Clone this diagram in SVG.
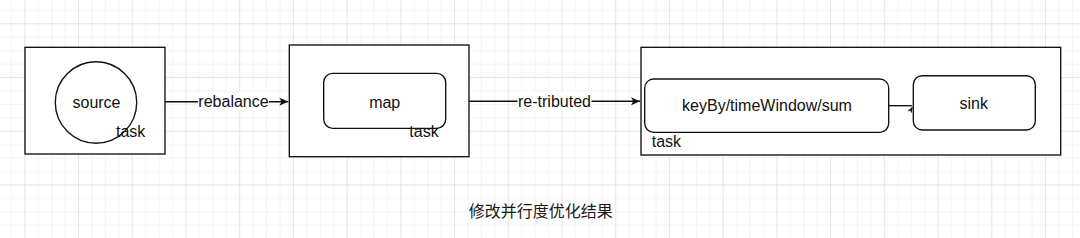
<svg xmlns="http://www.w3.org/2000/svg" width="1080" height="238" viewBox="0 0 1080 238">
  <style>
    .box { fill: #ffffff; stroke: #111111; stroke-width: 1.35; }
    .lbl { font-family: "Liberation Sans", Arial, sans-serif; font-size: 16px; fill: #111111; }
    .mid { text-anchor: middle; }
    .edge { fill: none; stroke: #111111; stroke-width: 1.35; }
    .cap { font-family: "Liberation Sans", "Noto Sans CJK SC", sans-serif; font-size: 16px; fill: #1a1a1a; text-anchor: middle; }
  </style>
  <defs>
    <pattern id="grid" patternUnits="userSpaceOnUse" x="24.3" y="23.3" width="53.72" height="53.72">
      <rect x="0" y="0" width="53.72" height="53.72" fill="#ffffff"/>
      <rect x="13.43" y="0" width="1" height="53.72" fill="#f3f3f3"/>
      <rect x="26.86" y="0" width="1" height="53.72" fill="#f3f3f3"/>
      <rect x="40.29" y="0" width="1" height="53.72" fill="#f3f3f3"/>
      <rect x="0" y="13.43" width="53.72" height="1" fill="#f3f3f3"/>
      <rect x="0" y="26.86" width="53.72" height="1" fill="#f3f3f3"/>
      <rect x="0" y="40.29" width="53.72" height="1" fill="#f3f3f3"/>
      <rect x="0" y="0" width="1" height="53.72" fill="#e6e6e6"/>
      <rect x="0" y="0" width="53.72" height="1" fill="#e6e6e6"/>
    </pattern>
    <marker id="arrow" markerUnits="userSpaceOnUse" viewBox="0 0 10 10" markerWidth="9" markerHeight="9" refX="10" refY="5" orient="auto">
      <path d="M0,0.5 L10,5 L0,9.5 L2.5,5 Z" fill="#111111"/>
    </marker>
  </defs>

  <rect x="0" y="0" width="1080" height="238" fill="url(#grid)"/>

  <g id="task-source">
    <rect class="box" x="25" y="47.3" width="140" height="106.7"/>
    <circle class="box" cx="96" cy="102.5" r="40.7"/>
    <text class="lbl mid" x="96.5" y="107.7">source</text>
    <text class="lbl" x="116" y="137">task</text>
  </g>

  <g id="task-map">
    <rect class="box" x="289.3" y="45" width="179.7" height="111.7"/>
    <rect class="box" x="323.7" y="73.3" width="122" height="55" rx="9" ry="9"/>
    <text class="lbl mid" x="384.7" y="107.5">map</text>
    <text class="lbl" x="409.3" y="137">task</text>
  </g>

  <g id="task-keyby-sink">
    <rect class="box" x="641" y="47.3" width="419.7" height="107.7"/>
    <text class="lbl" x="651.7" y="147.3">task</text>
  </g>

  <g id="keyby">
    <rect class="box" x="644.7" y="79" width="244" height="53.3" rx="9" ry="9"/>
    <text class="lbl mid" x="767" y="111.3">keyBy/timeWindow/sum</text>
  </g>

  <g id="sink">
    <rect class="box" x="913.3" y="75.7" width="122" height="54.3" rx="9" ry="9"/>
    <text class="lbl mid" x="973.8" y="108.6">sink</text>
  </g>

  <g id="connectors">
    <path class="edge" d="M165,101.7 H288.3" marker-end="url(#arrow)"/>
    <rect x="198" y="92" width="71" height="19" fill="#ffffff"/>
    <text class="lbl mid" x="233.5" y="107.3">rebalance</text>

    <path class="edge" d="M469,101.2 H640" marker-end="url(#arrow)"/>
    <rect x="517.5" y="91.5" width="74" height="19" fill="#ffffff"/>
    <text class="lbl mid" x="554.5" y="106.8">re-tributed</text>

    <path class="edge" d="M888.7,105.7 H911.8"/>
    <polygon points="912.8,106.2 907.4,111.6 910.4,110.8 911.6,113.2" fill="#111111"/>
  </g>

  <text class="cap" x="540.8" y="216.5">修改并行度优化结果</text>
</svg>
